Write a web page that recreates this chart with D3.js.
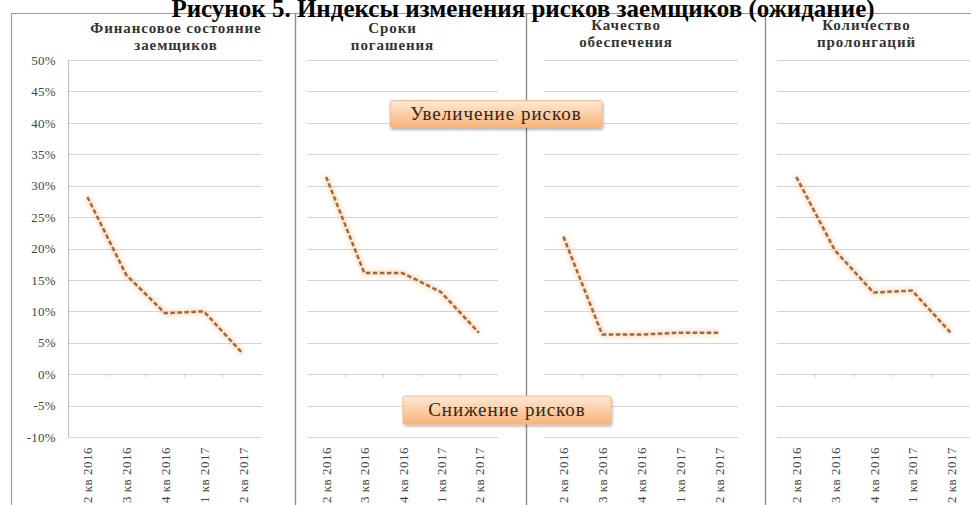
<!DOCTYPE html>
<html>
<head>
<meta charset="utf-8">
<script src="https://cdn.jsdelivr.net/npm/d3@7"></script>
<style>
  html, body { margin: 0; padding: 0; background: #fff; }
  svg { display: block; }
</style>
</head>
<body>
<svg id="chart" width="971" height="505"></svg>
<script>
// Quarters shown on every panel
const quarters = ["2 кв 2016", "3 кв 2016", "4 кв 2016", "1 кв 2017", "2 кв 2017"];

// Panel titles (two lines each)
const panelTitles = [
  ["Финансовое состояние", "заемщиков"],
  ["Сроки", "погашения"],
  ["Качество", "обеспечения"],
  ["Количество", "пролонгаций"]
];

// Risk change indices, %
const financialState = [28.2, 15.8, 9.7, 10.0, 3.3];
const repaymentTerms = [31.4, 16.1, 16.1, 13.1, 6.6];
const collateralQuality = [21.9, 6.3, 6.3, 6.6, 6.6];
const prolongations = [31.4, 19.7, 13.0, 13.3, 6.6];
const seriesList = [financialState, repaymentTerms, collateralQuality, prolongations];

// Y axis ticks, %
const yTicks = [50, 45, 40, 35, 30, 25, 20, 15, 10, 5, 0, -5, -10];

const svg = d3.select("#chart");
const serif = "'Liberation Serif', 'Times New Roman', serif";

const defs = svg.append("defs");
const glow = defs.append("filter").attr("id", "glow")
  .attr("x", "-20%").attr("y", "-20%").attr("width", "140%").attr("height", "140%");
glow.append("feGaussianBlur").attr("stdDeviation", 2.2);

const boxGrad = defs.append("linearGradient").attr("id", "boxGrad")
  .attr("x1", 0).attr("y1", 0).attr("x2", 0).attr("y2", 1);
boxGrad.append("stop").attr("offset", "0%").attr("stop-color", "#fee9d6");
boxGrad.append("stop").attr("offset", "55%").attr("stop-color", "#fccba0");
boxGrad.append("stop").attr("offset", "100%").attr("stop-color", "#f8b47a");

const shadow = defs.append("filter").attr("id", "shadow")
  .attr("x", "-10%").attr("y", "-30%").attr("width", "120%").attr("height", "170%");
shadow.append("feDropShadow").attr("dx", 1).attr("dy", 2).attr("stdDeviation", 1.6)
  .attr("flood-color", "#000").attr("flood-opacity", 0.3);

// Shared vertical scale
const y = d3.scaleLinear().domain([-10, 50]).range([437, 60]);

// Horizontal extents of each panel's plot area
const panelRanges = [[68, 262], [307, 498], [544, 738], [777, 970]];

// Frame: title rule, outer left edge and panel separators
svg.append("line").attr("x1", 11).attr("x2", 971).attr("y1", 13.5).attr("y2", 13.5)
  .attr("stroke", "#9a9a9a").attr("stroke-width", 1);
svg.append("line").attr("x1", 11.5).attr("x2", 11.5).attr("y1", 13).attr("y2", 505)
  .attr("stroke", "#9a9a9a").attr("stroke-width", 1.2);
[295.5, 526.5, 765.5].forEach(xx => {
  svg.append("line").attr("x1", xx).attr("x2", xx).attr("y1", 13).attr("y2", 505)
    .attr("stroke", "#8c8c8c").attr("stroke-width", 1.4);
});

// Title
svg.append("text")
  .attr("x", 523).attr("y", 17)
  .attr("text-anchor", "middle")
  .attr("font-family", serif).attr("font-weight", "bold").attr("font-size", 25)
  .attr("fill", "#000")
  .text("Рисунок 5. Индексы изменения рисков заемщиков (ожидание)");

// Y axis labels (left panel only)
const yAxis = d3.axisLeft(y).tickValues(yTicks).tickSize(0).tickPadding(0)
  .tickFormat(d => d + "%");
const yg = svg.append("g").attr("transform", "translate(56,0)").call(yAxis);
yg.select(".domain").remove();
yg.selectAll("text").attr("font-family", serif).attr("font-size", 13)
  .attr("letter-spacing", 0.3).attr("fill", "#444");

const titleY = [[33, 50], [33, 50], [30, 47], [30, 47]];
const titleDx = [11, -10, -15, -7];

panelRanges.forEach((rng, i) => {
  const g = svg.append("g");
  const x = d3.scaleBand().domain(quarters).range(rng);

  // Gridlines
  g.selectAll("line.grid").data(yTicks).join("line")
    .attr("class", "grid")
    .attr("x1", rng[0]).attr("x2", rng[1])
    .attr("y1", d => Math.round(y(d)) + 0.5).attr("y2", d => Math.round(y(d)) + 0.5)
    .attr("stroke", "#d4d4d4").attr("stroke-width", 1);

  // Vertical axis line on the first panel
  if (i === 0) {
    g.append("line").attr("x1", rng[0] + 0.5).attr("x2", rng[0] + 0.5)
      .attr("y1", y(50)).attr("y2", y(-10))
      .attr("stroke", "#bdbdbd").attr("stroke-width", 1);
  }

  // Category tick marks on the zero line
  const bounds = quarters.slice(1).map(q => x(q));
  g.selectAll("line.tick").data(bounds).join("line")
    .attr("class", "tick")
    .attr("x1", d => d).attr("x2", d => d)
    .attr("y1", y(0)).attr("y2", y(0) + 3)
    .attr("stroke", "#cfcfcf").attr("stroke-width", 1);

  // Category labels, rotated, below the plot
  g.selectAll("text.cat").data(quarters).join("text")
    .attr("class", "cat")
    .attr("transform", d => `translate(${x(d) + x.bandwidth() / 2 + 5},447) rotate(-90)`)
    .attr("text-anchor", "end")
    .attr("font-family", serif).attr("font-size", 13).attr("letter-spacing", 0.5)
    .attr("fill", "#444")
    .text(d => d);

  // Panel title
  const t = g.append("text").attr("text-anchor", "middle")
    .attr("font-family", serif).attr("font-weight", "bold").attr("font-size", 15)
    .attr("letter-spacing", 0.9).attr("fill", "#333");
  panelTitles[i].forEach((line, k) => {
    t.append("tspan").attr("x", (rng[0] + rng[1]) / 2 + titleDx[i])
      .attr("y", titleY[i][k]).text(line);
  });

  // Series line: soft orange glow under a dashed brown stroke
  const line = d3.line()
    .x((d, j) => x(quarters[j]) + x.bandwidth() / 2)
    .y(d => y(d));
  g.append("path").datum(seriesList[i])
    .attr("d", line).attr("fill", "none")
    .attr("stroke", "#fbc48e").attr("stroke-width", 6).attr("stroke-opacity", 0.5)
    .attr("stroke-linejoin", "round").attr("filter", "url(#glow)");
  g.append("path").datum(seriesList[i])
    .attr("d", line).attr("fill", "none")
    .attr("stroke", "#9a6a46").attr("stroke-width", 2.5)
    .attr("stroke-dasharray", "4.5,2.5")
    .attr("stroke-linejoin", "round");
});

// Annotation boxes
function noteBox(cx, cy, w, h, label) {
  const g = svg.append("g");
  g.append("rect").attr("x", cx - w / 2).attr("y", cy - h / 2)
    .attr("width", w).attr("height", h).attr("rx", 2)
    .attr("fill", "url(#boxGrad)").attr("stroke", "#f4b27b").attr("stroke-width", 0.8)
    .attr("filter", "url(#shadow)");
  g.append("text").attr("x", cx).attr("y", cy + 5.5)
    .attr("text-anchor", "middle")
    .attr("font-family", serif).attr("font-size", 19).attr("letter-spacing", 1)
    .attr("fill", "#33261a")
    .text(label);
}
noteBox(496, 114, 212, 27, "Увеличение рисков");
noteBox(507, 410, 208, 28, "Снижение рисков");
</script>
</body>
</html>
